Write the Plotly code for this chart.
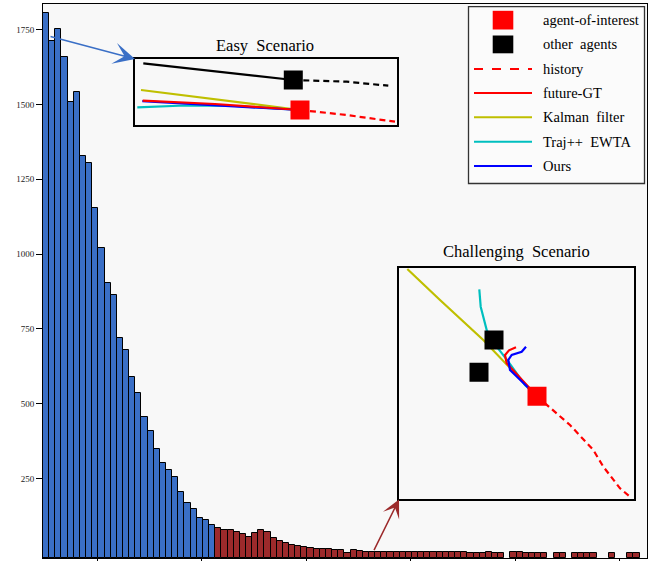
import plotly.graph_objects as go

# ---------------- data ----------------
BLUE_COUNTS = [1805, 1713, 1753, 1657, 1508, 1543, 1327, 1304, 1155, 1020,
               904, 863, 719, 679, 588, 537, 454, 410, 350, 303,
               280, 255, 206, 168, 148, 118, 110, 93]
RED_COUNTS = [84, 79, 77, 71, 63, 54, 67, 78, 70, 50,
              41, 33, 29, 24, 20, 18, 16, 15, 13, 12,
              12, 1, 11, 8, 5, 3, 3, 3, 3, 3,
              3, 3, 3, 3, 3, 3, 3, 3, 3, 3,
              3, 2, 2, 2, 6, 2, 2, 0, 6, 6,
              1, 1, 1, 1, 0, 1, 1, 0, 1, 1,
              1, 1, 0, 0, 1, 0, 0, 1, 1]
Y_TICKS = [250, 500, 750, 1000, 1250, 1500, 1750]
X_TICKS = [8.3, 25.3, 42.3, 59.3, 76.3, 93.3]
Y_MIN, Y_MAX = -15.7, 1835.5
X_MIN, X_MAX = -0.5, 97.7

# Easy scenario (local inset units)
EASY_OTHER_HIST_X = [8.3, 80, 158.3]
EASY_OTHER_HIST_Y = [61.7, 54.0, 45.0]
EASY_OTHER_FUT_X = [158.3, 211.7, 253.3]
EASY_OTHER_FUT_Y = [45.0, 43.3, 39.3]
EASY_KALMAN_X = [6, 165]
EASY_KALMAN_Y = [35, 15]
EASY_OURS_X = [7.3, 165]
EASY_OURS_Y = [23.8, 15]
EASY_GT_X = [7.7, 80, 165]
EASY_GT_Y = [24.3, 21.0, 15]
EASY_TRAJ_X = [2.3, 50, 100, 165]
EASY_TRAJ_Y = [17.7, 19.5, 19.0, 15]
EASY_HIST_X = [165, 211.7, 260]
EASY_HIST_Y = [15, 10, 3.3]
EASY_AGENT = (165, 15)
EASY_OTHERS = ([158.3], [45.0])

# Challenging scenario (local inset units)
CH_KALMAN_X = [8.3, 41, 84.3, 111, 138]
CH_KALMAN_Y = [230.3, 199.3, 159.3, 131, 103]
CH_TRAJ_X = [80.3, 81.7, 87.7, 97.7, 109.3, 126, 138]
CH_TRAJ_Y = [210, 192.6, 169.3, 152.6, 137.6, 114.3, 103]
CH_GT_X = [138, 107.7, 106, 110, 117]
CH_GT_Y = [103, 136, 144.3, 149, 152]
CH_OURS_X = [138, 111, 109.3, 112.7, 122.7, 127]
CH_OURS_Y = [103, 129.3, 139.3, 144.3, 147.6, 152.6]
CH_HIST_X = [138, 147.7, 171, 194.3, 204.3, 221, 231]
CH_HIST_Y = [103, 94.3, 74.3, 49.3, 32.6, 11, 2.6]
CH_AGENT = (138, 103)
CH_OTHERS = ([95, 80], [159.3, 127])

LEGEND_LABELS = ["agent-of-interest", "other\u00a0 agents", "history", "future-GT",
                 "Kalman\u00a0 filter", "Traj++\u00a0 EWTA", "Ours"]

# ---------------- styles ----------------
BAR_BLUE = "#3a6fc6"
BAR_RED = "#9c2a2b"
C_RED, C_BLACK, C_Y, C_C, C_B = "#ff0000", "#000000", "#bfbf00", "#00bfbf", "#0000ff"
FONT = "Liberation Serif"
W, H = 650, 561
ML, MR, MT, MB = 43, 3, 4, 3
PW, PH = W - ML - MR, H - MT - MB


def px(x):
    return (x - ML) / PW


def py(y):
    return (H - MB - y) / PH


fig = go.Figure()

counts = BLUE_COUNTS + RED_COUNTS
colors = [BAR_BLUE] * len(BLUE_COUNTS) + [BAR_RED] * len(RED_COUNTS)
xs = list(range(len(counts)))
heights = [(c - Y_MIN) if c > 0 else None for c in counts]
fig.add_trace(go.Bar(x=xs, y=heights, base=Y_MIN, width=1.0,
                     marker=dict(color=colors, line=dict(color="black", width=1)),
                     hoverinfo="skip", showlegend=False))

# ---------------- insets ----------------
def line(xa, ya, color, dash="solid", w=2.2, ax="x2", ay="y2"):
    fig.add_trace(go.Scatter(x=xa, y=ya, mode="lines", xaxis=ax, yaxis=ay,
                             line=dict(color=color, width=w, dash=dash),
                             showlegend=False, hoverinfo="skip"))


def squares(xa, ya, color, ax, ay):
    fig.add_trace(go.Scatter(x=xa, y=ya, mode="markers", xaxis=ax, yaxis=ay,
                             marker=dict(symbol="square", size=19, color=color,
                                         line=dict(width=0)),
                             showlegend=False, hoverinfo="skip"))

# easy
line(EASY_OTHER_HIST_X, EASY_OTHER_HIST_Y, C_BLACK)
line(EASY_OTHER_FUT_X, EASY_OTHER_FUT_Y, C_BLACK, dash="6px,4px")
line(EASY_KALMAN_X, EASY_KALMAN_Y, C_Y)
line(EASY_TRAJ_X, EASY_TRAJ_Y, C_C)
line(EASY_OURS_X, EASY_OURS_Y, C_B)
line(EASY_GT_X, EASY_GT_Y, C_RED)
line(EASY_HIST_X, EASY_HIST_Y, C_RED, dash="6px,4px")
squares(*EASY_OTHERS, C_BLACK, "x2", "y2")
squares([EASY_AGENT[0]], [EASY_AGENT[1]], C_RED, "x2", "y2")

# challenging
line(CH_KALMAN_X, CH_KALMAN_Y, C_Y, ax="x3", ay="y3")
line(CH_TRAJ_X, CH_TRAJ_Y, C_C, ax="x3", ay="y3")
line(CH_GT_X, CH_GT_Y, C_RED, ax="x3", ay="y3")
line(CH_OURS_X, CH_OURS_Y, C_B, ax="x3", ay="y3")
line(CH_HIST_X, CH_HIST_Y, C_RED, dash="6px,4px", ax="x3", ay="y3")
squares(*CH_OTHERS, C_BLACK, "x3", "y3")
squares([CH_AGENT[0]], [CH_AGENT[1]], C_RED, "x3", "y3")

inset_common = dict(showline=True, mirror=True, linecolor="black", linewidth=1.5,
                    showticklabels=False, showgrid=False, zeroline=False, ticks="",
                    fixedrange=True, automargin=False)

shapes = []
annotations = []

# ---------------- legend box ----------------
shapes.append(dict(type="rect", xref="paper", yref="paper",
                   x0=px(468.5), x1=px(644.5), y0=py(183.5), y1=py(6.7),
                   line=dict(color="#333333", width=1.3), fillcolor="#fbfbfb", layer="above"))
leg_y = [20, 43.5, 69, 93, 117.3, 141.7, 166]
shapes.append(dict(type="rect", xref="paper", yref="paper", x0=px(492.7), x1=px(513.3),
                   y0=py(29.5), y1=py(10.8), fillcolor=C_RED, line=dict(width=0), layer="above"))
shapes.append(dict(type="rect", xref="paper", yref="paper", x0=px(492.7), x1=px(513.3),
                   y0=py(53.3), y1=py(35.5), fillcolor=C_BLACK, line=dict(width=0), layer="above"))
leg_lines = [(C_RED, "dash"), (C_RED, "solid"), (C_Y, "solid"), (C_C, "solid"), (C_B, "solid")]
for (c, d), yy in zip(leg_lines, leg_y[2:]):
    shapes.append(dict(type="line", xref="paper", yref="paper", x0=px(474), x1=px(532),
                       y0=py(yy), y1=py(yy), line=dict(color=c, width=2, dash=d), layer="above"))
for lab, yy in zip(LEGEND_LABELS, leg_y):
    annotations.append(dict(text=lab, xref="paper", yref="paper", x=px(541), y=py(yy),
                            xanchor="left", yanchor="middle", showarrow=False,
                            font=dict(family=FONT, size=14.5, color="black")))

# ---------------- titles ----------------
annotations.append(dict(text="Easy\u00a0 Scenario", xref="paper", yref="paper",
                        x=px(265), y=py(46), xanchor="center", yanchor="middle",
                        showarrow=False, font=dict(family=FONT, size=16.5, color="black")))
annotations.append(dict(text="Challenging\u00a0 Scenario", xref="paper", yref="paper",
                        x=px(516), y=py(251), xanchor="center", yanchor="middle",
                        showarrow=False, font=dict(family=FONT, size=16.5, color="black")))

# ---------------- arrows ----------------
annotations.append(dict(text="", xref="paper", yref="paper", x=px(135), y=py(59),
                        ax=49 - 135, ay=36 - 59, axref="pixel", ayref="pixel",
                        showarrow=True, arrowhead=3, arrowsize=2.4, arrowwidth=1.5,
                        arrowcolor=BAR_BLUE))
annotations.append(dict(text="", xref="paper", yref="paper", x=px(399), y=py(499.5),
                        ax=373.3 - 399, ay=551.7 - 499.5, axref="pixel", ayref="pixel",
                        showarrow=True, arrowhead=3, arrowsize=2.0, arrowwidth=1.5,
                        arrowcolor=BAR_RED))

fig.update_layout(
    width=W, height=H,
    margin=dict(l=ML, r=MR, t=MT, b=MB, pad=0, autoexpand=False),
    paper_bgcolor="white",
    plot_bgcolor="#f8f8f8",
    bargap=0,
    showlegend=False,
    font=dict(family=FONT, color="black"),
    xaxis=dict(range=[X_MIN, X_MAX], tickvals=X_TICKS, showticklabels=False,
               ticks="outside", ticklen=6, tickwidth=1, tickcolor="black",
               showline=True, mirror=True, linecolor="black", linewidth=1,
               showgrid=False, zeroline=False, domain=[0, 1], automargin=False),
    yaxis=dict(range=[Y_MIN, Y_MAX], tickvals=Y_TICKS, ticktext=[str(v) for v in Y_TICKS],
               ticks="outside", ticklen=6, tickwidth=1, tickcolor="black",
               tickfont=dict(family=FONT, size=9, color="#222222"),
               showline=True, mirror=True, linecolor="black", linewidth=1,
               showgrid=False, zeroline=False, domain=[0, 1], automargin=False),
    xaxis2=dict(domain=[px(135), px(396.7)], range=[0, 261.7], anchor="y2", **inset_common),
    yaxis2=dict(domain=[py(125), py(59.3)], range=[0, 65.7], anchor="x2", **inset_common),
    xaxis3=dict(domain=[px(399), px(634.3)], range=[0, 235.3], anchor="y3", **inset_common),
    yaxis3=dict(domain=[py(499.3), py(267.7)], range=[0, 231.6], anchor="x3", **inset_common),
    shapes=shapes,
    annotations=annotations,
)

fig.write_html("out.html")
